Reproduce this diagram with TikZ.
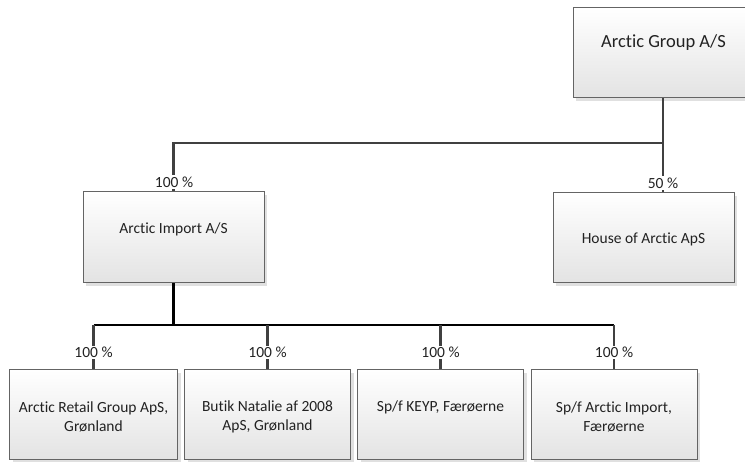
\documentclass[tikz,border=0pt]{standalone}
\usepackage{fontspec}
\setmainfont{Carlito}[Ligatures={NoCommon}]
\usetikzlibrary{shadows,calc}
\definecolor{txtc}{HTML}{222222}
\definecolor{bord}{HTML}{646464}
\definecolor{conn}{HTML}{404040}
\tikzset{
  box/.style={draw=bord, line width=1pt, top color=white, bottom color=black!11,
    minimum width=#1, minimum height=90pt, inner sep=0pt,
    drop shadow={shadow xshift=3pt, shadow yshift=-3pt, opacity=1, fill=black!12}},
  box/.default=181pt,
  txt/.style={text=txtc, font=\fontsize{15.5}{19}\selectfont, align=center, inner sep=0pt},
  pct/.style={text=txtc, font=\fontsize{15.5}{19}\selectfont, fill=white, inner sep=1.5pt},
  topline/.style={draw=conn, line width=2.2pt},
  hubline/.style={draw=black, line width=2.8pt},
  drop/.style={draw=conn, line width=2.2pt},
}
\begin{document}
\begin{tikzpicture}[x=1pt,y=-1pt]
\useasboundingbox (0,0) rectangle (745,462);
% boxes
\node[box] (ag) at (663.5,53) {};
\node[txt, font=\fontsize{18.5}{22}\selectfont] (agt) at (663.5,43) {Arctic Group A/S};
\node[box, minimum height=91pt] (ai) at (173.5,237.5) {};
\node[txt] (ait) at (173.5,229.5) {Arctic Import A/S};
\node[box] (ha) at (643.5,238) {};
\node[txt] (hat) at (643.5,239.5) {House of Arctic ApS};
\node[box=168pt] (b1) at (93.5,415) {};
\node[box=166pt] (b2) at (267.5,415) {};
\node[box=166pt] (b3) at (440.5,415) {};
\node[box=166pt] (b4) at (614,415) {};
\node[txt] (b1t) at (93.5,416.5) {Arctic Retail Group ApS,\\Grønland};
\node[txt] (b2t) at (267.5,416.5) {Butik Natalie af 2008\\ApS, Grønland};
\node[txt] (b3t) at (440.5,407) {Sp/f KEYP, Færøerne};
\node[txt] (b4t) at (614,416.5) {Sp/f Arctic Import,\\Færøerne};
% top connectors
\coordinate (topj) at (663,143);
\coordinate (agb) at (663,98);
\draw[topline] (agb) -- (topj) -| (ai.north);
\draw[topline] (topj) -- (topj |- ha.north);
\node[pct] (p1) at (174,182) {100 \%};
\node[pct] (p2) at (663,183) {50 \%};
% bottom connectors
\coordinate (hub) at (173.5,325);
\draw[hubline] (ai.south) -- (hub);
\draw[hubline] (b1.north |- hub) -- (b4.north |- hub);
\foreach \b in {b1,b2,b3,b4}{
  \draw[drop] (\b.north |- hub) -- (\b.north);
  \node[pct] (p\b) at ($(\b.north)+(0,-17)$) {100 \%};
}
\end{tikzpicture}
\end{document}
